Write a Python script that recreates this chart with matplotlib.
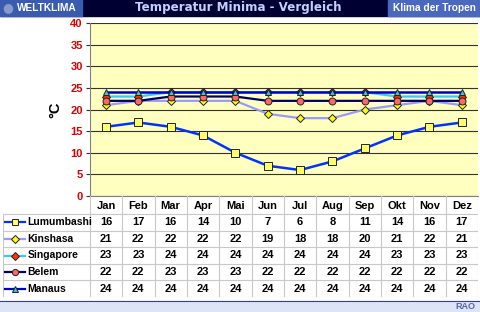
import matplotlib
matplotlib.use('Agg')
import matplotlib.pyplot as plt
from matplotlib.patches import Rectangle
from matplotlib.lines import Line2D

# Monthly minimum temperatures (°C)
months = ['Jan', 'Feb', 'Mar', 'Apr', 'Mai', 'Jun', 'Jul', 'Aug', 'Sep', 'Okt', 'Nov', 'Dez']
lumumbashi = [16, 17, 16, 14, 10, 7, 6, 8, 11, 14, 16, 17]
kinshasa = [21, 22, 22, 22, 22, 19, 18, 18, 20, 21, 22, 21]
singapore = [23, 23, 24, 24, 24, 24, 24, 24, 24, 23, 23, 23]
belem = [22, 22, 23, 23, 23, 22, 22, 22, 22, 22, 22, 22]
manaus = [24, 24, 24, 24, 24, 24, 24, 24, 24, 24, 24, 24]

series = [
    ('Lumumbashi', lumumbashi, dict(color='#0033ff', marker='s', mfc='#ffff66', ms=5.5, lw=1.8)),
    ('Kinshasa', kinshasa, dict(color='#9999ff', marker='D', mfc='#ffff00', ms=4, lw=1.6)),
    ('Singapore', singapore, dict(color='#33ccff', marker='D', mfc='#ff3300', ms=4, lw=1.6)),
    ('Belem', belem, dict(color='#000066', marker='o', mfc='#ff6666', ms=5, lw=1.6)),
    ('Manaus', manaus, dict(color='#0000cc', marker='^', mfc='#33cccc', ms=5, lw=1.8)),
]

W, H = 480, 312
fig = plt.figure(figsize=(W / 100, H / 100), dpi=100)
fig.patch.set_facecolor('white')

def fx(px):
    return px / W

def fy(py):
    return 1 - py / H

# header bar
fig.patches.append(Rectangle((0, fy(16)), 1, 16 / H, transform=fig.transFigure, color='#000033', zorder=0))
fig.patches.append(Rectangle((0, fy(16)), fx(82), 16 / H, transform=fig.transFigure, color='#3a5cb0', zorder=1))
fig.patches.append(Rectangle((fx(388), fy(16)), 1 - fx(388), 16 / H, transform=fig.transFigure, color='#4a68c0', zorder=1))
fig.text(fx(8), fy(8), '\u25cf', color='#8899cc', fontsize=9, ha='center', va='center')
fig.text(fx(17), fy(8), 'WELTKLIMA', color='white', fontsize=7.3, fontweight='bold',
         family='Liberation Sans', ha='left', va='center')
fig.text(fx(238), fy(8), 'Temperatur Minima - Vergleich',
         color='#c0d0f8', fontsize=8.6, fontweight='bold', family='DejaVu Sans', ha='center', va='center')
fig.text(fx(434), fy(8), 'Klima der Tropen', color='white', fontsize=7.3, fontweight='bold',
         family='Liberation Sans', ha='center', va='center')

# footer
fig.patches.append(Rectangle((0, 0), 1, 11 / H, transform=fig.transFigure, color='#dde4f7', zorder=0))
fig.lines.append(Line2D([0, 1], [fy(301), fy(301)], transform=fig.transFigure, color='#334488', lw=0.8))
fig.text(fx(475), fy(306.5), 'RAO', color='#5566aa', fontsize=6.5, fontweight='bold',
         family='Liberation Sans', ha='right', va='center')

# chart
left, right, top, bottom = 89.8, 478, 23, 196
ax = fig.add_axes([fx(left), fy(bottom), fx(right - left), (bottom - top) / H])
ax.set_facecolor('#ffffc0')
x = list(range(len(months)))
for name, vals, st in series:
    ax.plot(x, vals, color=st['color'], lw=st['lw'], marker=st['marker'], mfc=st['mfc'],
            mec='#222222', mew=0.7, ms=st['ms'], zorder=3)
ax.set_xlim(-0.5, 11.5)
ax.set_ylim(0, 40)
ax.set_yticks(range(0, 41, 5))
ax.yaxis.grid(True, color='#333333', lw=0.8)
ax.set_axisbelow(True)
ax.set_xticks([])
for s in ['top', 'right']:
    ax.spines[s].set_visible(False)
ax.spines['left'].set_color('#808080')
ax.spines['bottom'].set_color('#808080')
ax.tick_params(axis='y', length=3, color='#333333', pad=2, labelsize=8, labelcolor='#dd0000')
for lab in ax.get_yticklabels():
    lab.set_fontweight('bold')
    lab.set_family('Liberation Sans')
ax.set_ylabel('°C', fontsize=10.5, fontweight='bold', family='Liberation Sans', labelpad=6)

# data table
tleft, tbottom = 3, 297
tab = fig.add_axes([fx(tleft), fy(tbottom), fx(right - tleft), (tbottom - bottom) / H])
unit = (right - left) / 12.0
x0 = -0.5 - (left - tleft) / unit
tab.set_xlim(x0, 11.5)
tab.set_ylim(tbottom, bottom)
tab.axis('off')

def px2x(px):
    return -0.5 + (px - left) / unit

row_top = 214
row_h = (tbottom - row_top) / len(series)
grey = '#c8c8c8'
for k in range(len(months) + 1):
    tab.plot([k - 0.5, k - 0.5], [bottom, tbottom], color=grey, lw=0.8)
tab.plot([x0 + 0.01, x0 + 0.01], [row_top, tbottom], color=grey, lw=0.8)
for i in range(len(series) + 1):
    yy = row_top + i * row_h
    tab.plot([x0, 11.5], [yy, yy], color=grey, lw=0.8)
for k, m in enumerate(months):
    tab.text(k, (bottom + row_top) / 2 + 1, m, ha='center', va='center', fontsize=8,
             fontweight='bold', family='Liberation Sans')
for i, (name, vals, st) in enumerate(series):
    yc = row_top + (i + 0.5) * row_h
    tab.plot([px2x(5), px2x(25)], [yc, yc], color=st['color'], lw=1.6)
    tab.plot([px2x(15)], [yc], marker=st['marker'], mfc=st['mfc'], mec='#222222', mew=0.7,
             ms=st['ms'] * 0.9, color=st['color'])
    tab.text(px2x(27.5), yc, name, ha='left', va='center', fontsize=7.5, fontweight='bold',
             family='Liberation Sans')
    for k, v in enumerate(vals):
        tab.text(k, yc, str(v), ha='center', va='center', fontsize=8, fontweight='bold',
                 family='Liberation Sans')

fig.savefig('out.png', dpi=100)
